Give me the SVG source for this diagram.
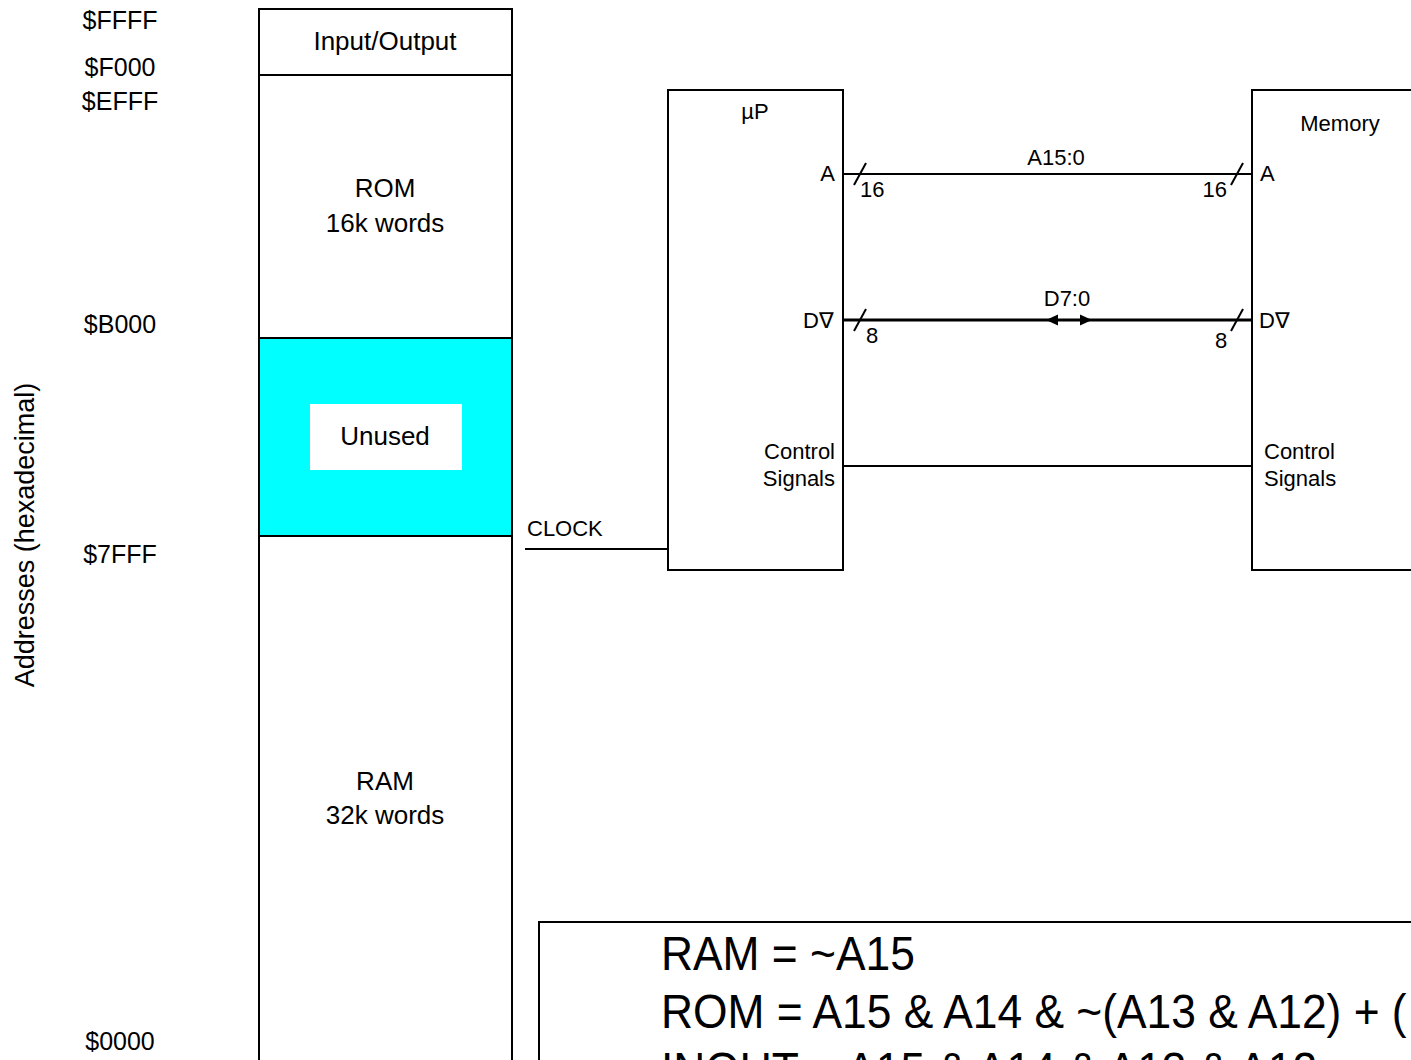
<svg xmlns="http://www.w3.org/2000/svg" width="1411" height="1060" viewBox="0 0 1411 1060">
<style>
text { font-family: "Liberation Sans", Arial, sans-serif; fill: #000; }
.addr { font-size: 25px; text-anchor: middle; }
.blk { font-size: 26px; text-anchor: middle; }
.sig { font-size: 22px; }
.box { fill: #fff; stroke: #000; stroke-width: 2; }
.wire { stroke: #000; stroke-width: 2; fill: none; }
.eq { font-size: 48px; }
</style>
<rect width="1411" height="1060" fill="#fff"/>

<g id="address-labels">
<text class="addr" x="120" y="29">$FFFF</text>
<text class="addr" x="120" y="76">$F000</text>
<text class="addr" x="120" y="110">$EFFF</text>
<text class="addr" x="120" y="333">$B000</text>
<text class="addr" x="120" y="563">$7FFF</text>
<text class="addr" x="120" y="1050">$0000</text>
<text x="0" y="0" font-size="27" text-anchor="middle" transform="translate(34,535) rotate(-90)">Addresses (hexadecimal)</text>
</g>

<g id="memory-map">
<rect class="box" x="259" y="9" width="253" height="1060"/>
<rect x="259" y="338" width="253" height="198" fill="#00ffff" stroke="#000" stroke-width="2"/>
<line class="wire" x1="259" y1="75" x2="512" y2="75"/>
<rect x="310" y="404" width="152" height="66" fill="#fff"/>
<text class="blk" x="385" y="50">Input/Output</text>
<text class="blk" x="385" y="197">ROM</text>
<text class="blk" x="385" y="232">16k words</text>
<text class="blk" x="385" y="445">Unused</text>
<text class="blk" x="385" y="790">RAM</text>
<text class="blk" x="385" y="824">32k words</text>
</g>

<g id="up">
<rect class="box" x="668" y="90" width="175" height="480"/>
<text class="sig" x="755" y="119" text-anchor="middle">µP</text>
<text class="sig" x="835" y="181" text-anchor="end">A</text>
<text class="sig" x="834" y="328" text-anchor="end">D∇</text>
<text class="sig" x="835" y="459" text-anchor="end">Control</text>
<text class="sig" x="835" y="486" text-anchor="end">Signals</text>
</g>

<g id="memory">
<rect class="box" x="1252" y="90" width="200" height="480"/>
<text class="sig" x="1340" y="131" text-anchor="middle">Memory</text>
<text class="sig" x="1260" y="181">A</text>
<text class="sig" x="1259" y="328">D∇</text>
<text class="sig" x="1264" y="459">Control</text>
<text class="sig" x="1264" y="486">Signals</text>
</g>

<g id="connectors">
<line class="wire" x1="843" y1="174" x2="1252" y2="174"/>
<line class="wire" x1="854" y1="185" x2="866" y2="163"/>
<line class="wire" x1="1231" y1="185" x2="1243" y2="163"/>
<text class="sig" x="860" y="197">16</text>
<text class="sig" x="1227" y="197" text-anchor="end">16</text>
<text class="sig" x="1056" y="165" text-anchor="middle">A15:0</text>

<line x1="843" y1="320" x2="1252" y2="320" stroke="#000" stroke-width="3"/>
<line class="wire" x1="854" y1="331" x2="866" y2="309"/>
<line class="wire" x1="1231" y1="331" x2="1243" y2="309"/>
<polygon points="1046,320 1058,314.5 1058,325.5" fill="#000"/>
<polygon points="1092,320 1080,314.5 1080,325.5" fill="#000"/>
<text class="sig" x="866" y="343">8</text>
<text class="sig" x="1215" y="348">8</text>
<text class="sig" x="1067" y="306" text-anchor="middle">D7:0</text>

<line class="wire" x1="843" y1="466" x2="1252" y2="466"/>

<line class="wire" x1="525" y1="549" x2="668" y2="549"/>
<text class="sig" x="527" y="536">CLOCK</text>
</g>

<g id="equations">
<rect class="box" x="539" y="922" width="900" height="200"/>
<g transform="translate(661,0) scale(0.924,1)">
<text class="eq" x="0" y="970">RAM = ~A15</text>
<text class="eq" x="0" y="1028">ROM = A15 &amp; A14 &amp; ~(A13 &amp; A12) + (</text>
<text class="eq" x="0" y="1086">INOUT = A15 &amp; A14 &amp; A13 &amp; A12</text>
</g>
</g>
</svg>
